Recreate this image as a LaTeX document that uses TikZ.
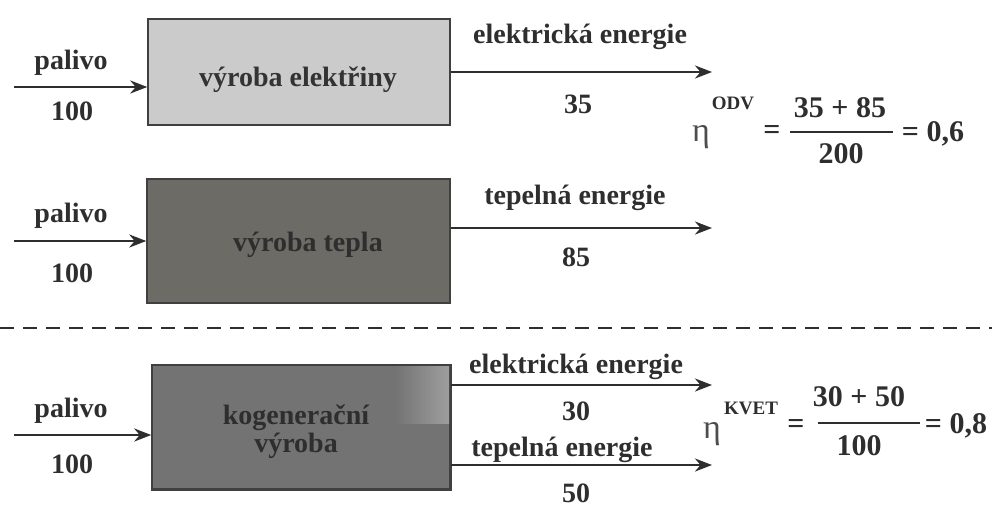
\documentclass[tikz,border=0pt]{standalone}
\usepackage{fontspec}
\setmainfont{Liberation Serif}
\usetikzlibrary{arrows.meta}
\definecolor{boxA}{HTML}{CBCBCB}
\definecolor{boxB}{HTML}{6C6B66}
\definecolor{boxC}{HTML}{737373}
\definecolor{ink}{HTML}{2E2E2E}
\begin{document}
\begin{tikzpicture}[x=1pt,y=-1pt,
  lab/.style={font=\bfseries\fontsize{28}{30}\selectfont, text=ink, inner sep=0pt},
  eqlab/.style={font=\bfseries\fontsize{30}{32}\selectfont, text=ink, inner sep=0pt},
  boxlab/.style={font=\bfseries\fontsize{28}{30}\selectfont, inner sep=0pt, align=center},
  sup/.style={font=\bfseries\fontsize{19}{20}\selectfont, text=ink, inner sep=0pt},
  eta/.style={font=\fontsize{34}{36}\selectfont, text=ink!85, inner sep=0pt},
  boxnode/.style={draw=black!75, line width=1.5pt, inner sep=0pt},
  arr/.style={line width=2.6pt, draw=ink, -{Stealth[length=17pt,width=13pt]}},
  fracline/.style={line width=2.6pt, draw=ink}]
\useasboundingbox (0,0) rectangle (1000,512);

% boxes
\node[boxnode, fill=boxA, minimum width=302pt, minimum height=106pt] (b1) at (299,72) {};
\node[boxnode, fill=boxB, minimum width=303pt, minimum height=124pt] (b2) at (298.5,241) {};
\node[boxnode, fill=boxC, minimum width=298pt, minimum height=124pt] (b3) at (301,427) {};
\shade[left color=boxC, right color=black!38] (395,366) rectangle (449,423);
\draw[black!75, line width=1.5pt] (b3.north west) rectangle (b3.south east);

\node[boxlab, text=black!80] (t1) at (298,80) {výroba elektřiny};
\node[boxlab, text=black!82] (t2) at (308,245) {výroba tepla};
\node[boxlab, text=black!82] (t3) at (296,432) {kogenerační\\[-2pt]výroba};

% inputs
\coordinate (in1) at (14,87);
\coordinate (in2) at (14,241);
\coordinate (in3) at (14,435);
\draw[arr] (in1) -- (b1.west |- in1);
\draw[arr] (in2) -- (b2.west |- in2);
\draw[arr] (in3) -- (b3.west |- in3);
\node[lab] (p1) at (71,63) {palivo};
\node[lab] (n1) at (72,111) {100};
\node[lab] (p2) at (71,216) {palivo};
\node[lab] (n2) at (72,273) {100};
\node[lab] (p3) at (71,411) {palivo};
\node[lab] (n3) at (72,464) {100};

% outputs
\coordinate (o1) at (712,72);
\coordinate (o2) at (712,228);
\coordinate (o3) at (712,385);
\coordinate (o4) at (712,465);
\draw[arr] (b1.east |- o1) -- (o1);
\draw[arr] (b2.east |- o2) -- (o2);
\draw[arr] (b3.east |- o3) -- (o3);
\draw[arr] (b3.east |- o4) -- (o4);
\node[lab] (e1) at (580,37) {elektrická energie};
\node[lab] (v1) at (578,104) {35};
\node[lab] (e2) at (575,198) {tepelná energie};
\node[lab] (v2) at (576,257) {85};
\node[lab] (e3) at (576,367) {elektrická energie};
\node[lab] (v3) at (576,411) {30};
\node[lab] (e4) at (562,450) {tepelná energie};
\node[lab] (v4) at (576,493) {50};

% dashed separator
\draw[ink, line width=2pt, dash pattern=on 14pt off 9pt] (0,328) -- (992,328);

% equation 1
\node[eta] (h1) at (701,137) {η};
\node[sup] (s1) at (733,103) {ODV};
\node[eqlab] (q1) at (772,132) {=};
\node[eqlab] (u1) at (840,108) {35 + 85};
\draw[fracline] (790,132) -- (893,132);
\node[eqlab] (d1) at (841,154) {200};
\node[eqlab] (r1) at (933,134) {= 0,6};

% equation 2
\node[eta] (h2) at (712,434) {η};
\node[sup] (s2) at (751,408) {KVET};
\node[eqlab] (q2) at (796,426) {=};
\node[eqlab] (u2) at (859,397) {30 + 50};
\draw[fracline] (818,423) -- (920,423);
\node[eqlab] (d2) at (859,446) {100};
\node[eqlab] (r2) at (956,426) {= 0,8};
\end{tikzpicture}
\end{document}
